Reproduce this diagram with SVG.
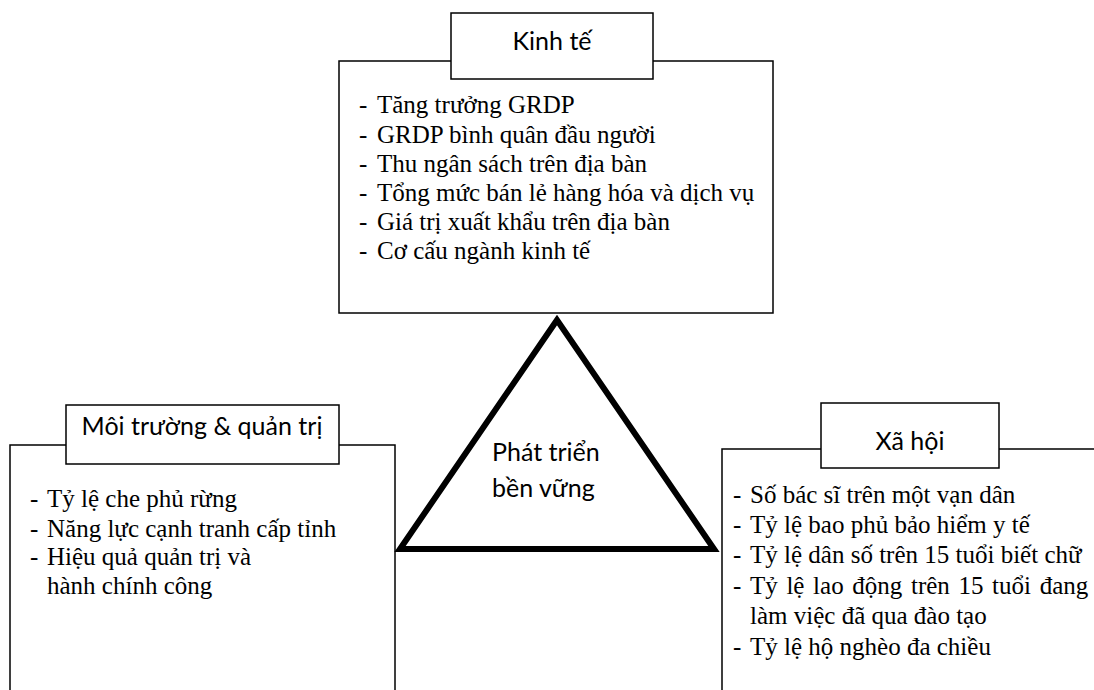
<svg xmlns="http://www.w3.org/2000/svg" width="1094" height="690" viewBox="0 0 1094 690">
<style>
.box{fill:#fff;stroke:#000;stroke-width:1.5}
.title{font-family:Lato,"Liberation Sans",sans-serif;font-size:25px;fill:#000}
.item{font-family:"Liberation Serif","Times New Roman",serif;font-size:25px;fill:#000}
.tri{fill:#fff;stroke:#000;stroke-width:6;stroke-linejoin:miter}
</style>
<rect width="1094" height="690" fill="#fff"/>
<g id="kinh-te">
<rect class="box" x="339" y="61" width="434" height="252"/>
<rect class="box" x="451" y="13" width="202" height="66"/>
<text class="title" x="552" y="50" text-anchor="middle">Kinh tế</text>
<g class="item">
<text x="359" y="113">-</text><text x="377" y="113">Tăng trưởng GRDP</text>
<text x="359" y="143">-</text><text x="377" y="143">GRDP bình quân đầu người</text>
<text x="359" y="172">-</text><text x="377" y="172">Thu ngân sách trên địa bàn</text>
<text x="359" y="201">-</text><text x="377" y="201">Tổng mức bán lẻ hàng hóa và dịch vụ</text>
<text x="359" y="230">-</text><text x="377" y="230">Giá trị xuất khẩu trên địa bàn</text>
<text x="359" y="259">-</text><text x="377" y="259">Cơ cấu ngành kinh tế</text>
</g>
</g>
<g id="moi-truong">
<rect class="box" x="10" y="445" width="385" height="260"/>
<rect class="box" x="66" y="405" width="273" height="59"/>
<text class="title" x="202" y="435" text-anchor="middle">Môi trường &amp; quản trị</text>
<g class="item">
<text x="30" y="507">-</text><text x="47" y="507">Tỷ lệ che phủ rừng</text>
<text x="30" y="537">-</text><text x="47" y="537">Năng lực cạnh tranh cấp tỉnh</text>
<text x="30" y="565">-</text><text x="47" y="565">Hiệu quả quản trị và</text>
<text x="47" y="594">hành chính công</text>
</g>
</g>
<g id="xa-hoi">
<rect class="box" x="722" y="449" width="400" height="260"/>
<rect class="box" x="821" y="403" width="178" height="65"/>
<text class="title" x="910" y="450" text-anchor="middle">Xã hội</text>
<g class="item">
<text x="733" y="503">-</text><text x="750" y="503">Số bác sĩ trên một vạn dân</text>
<text x="733" y="533">-</text><text x="750" y="533">Tỷ lệ bao phủ bảo hiểm y tế</text>
<text x="733" y="563">-</text><text x="750" y="563">Tỷ lệ dân số trên 15 tuổi biết chữ</text>
<text x="733" y="594">-</text><text x="750" y="594" word-spacing="2.4">Tỷ lệ lao động trên 15 tuổi đang</text>
<text x="750" y="624">làm việc đã qua đào tạo</text>
<text x="733" y="655">-</text><text x="750" y="655">Tỷ lệ hộ nghèo đa chiều</text>
</g>
</g>
<g id="phat-trien">
<polygon class="tri" points="557,320 400,549 714,549"/>
<text class="title" x="492" y="461">Phát triển</text>
<text class="title" x="492" y="497">bền vững</text>
</g>
<g id="connectors"></g>
</svg>
